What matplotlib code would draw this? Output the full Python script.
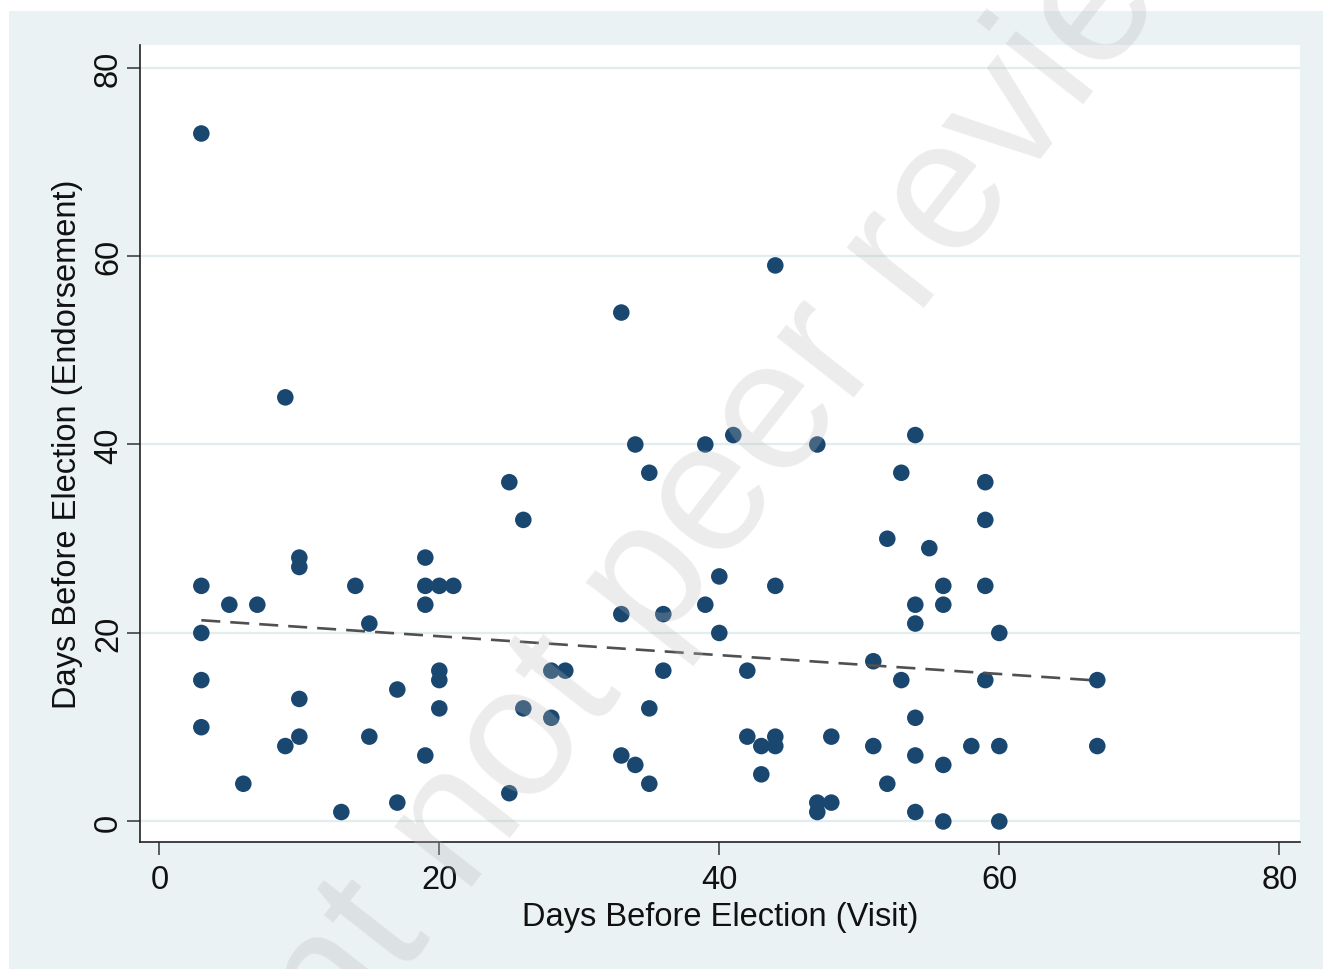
import numpy as np
import matplotlib
matplotlib.use("Agg")
import matplotlib.pyplot as plt
from matplotlib.patches import Rectangle

plt.rcParams["font.family"] = ["Liberation Sans", "DejaVu Sans"]

# Days before election of the candidate visit (x) and of the endorsement (y)
visit_days = [
    3, 3, 3, 3, 3,
    5, 6, 7,
    9, 9,
    10, 10, 10, 10,
    13, 14, 15, 15, 17, 17,
    19, 19, 19, 19,
    20, 20, 20, 20,
    21, 25, 25, 26, 26, 28, 28, 29,
    33, 33, 33, 34, 34, 35, 35, 35, 36, 36,
    39, 39, 40, 40, 41, 42, 42, 43, 43,
    44, 44, 44, 44,
    47, 47, 47, 48, 48, 51, 51, 52, 52, 53, 53,
    54, 54, 54, 54, 54, 54,
    55, 56, 56, 56, 56, 58,
    59, 59, 59, 59,
    60, 60, 60, 67, 67,
]
endorse_days = [
    73, 25, 20, 15, 10,
    23, 4, 23,
    45, 8,
    28, 27, 13, 9,
    1, 25, 21, 9, 14, 2,
    28, 25, 23, 7,
    25, 16, 15, 12,
    25, 36, 3, 32, 12, 16, 11, 16,
    54, 22, 7, 40, 6, 37, 12, 4, 22, 16,
    40, 23, 26, 20, 41, 16, 9, 8, 5,
    59, 25, 9, 8,
    40, 2, 1, 9, 2, 17, 8, 30, 4, 37, 15,
    41, 23, 21, 11, 7, 1,
    29, 25, 23, 6, 0, 8,
    36, 32, 25, 15,
    20, 8, 0, 15, 8,
]

# Fitted trend line: endpoints at the first and last visit day
fit_x = [3, 67]
fit_y = [21.35, 14.95]

x_ticks = [0, 20, 40, 60, 80]
y_ticks = [0, 20, 40, 60, 80]
x_title = "Days Before Election (Visit)"
y_title = "Days Before Election (Endorsement)"
watermark = "Preprint not peer reviewed"

NAVY = "#1a476f"
PANEL = "#eaf2f3"
GRID = "#e1edef"
FS = 23.5

W, H = 1323, 970
fig = plt.figure(figsize=(W / 100, H / 100), dpi=100)
fig.patch.set_facecolor("white")

# Outer graph region
fig.patches.append(Rectangle((9 / W, 0), 1 - 9 / W, 1 - 12 / H,
                             transform=fig.transFigure, facecolor=PANEL,
                             edgecolor="none", zorder=-5))

ax = fig.add_axes([140 / W, 1 - 843 / H, (1300 - 140) / W, (843 - 46) / H])
ax.set_zorder(1)
ax.set_facecolor("white")

ax.scatter(visit_days, endorse_days, s=142, color=NAVY,
           edgecolors="none", zorder=3)

ax.plot(fit_x, fit_y, color="#505050", lw=1.9,
        dashes=(7.2, 3.8), zorder=4)

ax.set_xlim(-1.38, 81.48)
ax.set_ylim(-2.18, 82.39)
ax.set_xticks(x_ticks)
ax.set_yticks(y_ticks)
ax.yaxis.grid(True, color=GRID, lw=1.6, zorder=1)
ax.set_axisbelow(True)

for side in ("top", "right"):
    ax.spines[side].set_visible(False)
for side in ("left", "bottom"):
    ax.spines[side].set_color("#222222")
    ax.spines[side].set_linewidth(1.2)

ax.tick_params(axis="both", direction="out", length=9.5, width=1.1,
               color="#333333", labelsize=FS, labelcolor="#111111")
ax.tick_params(axis="x", pad=6)
ax.tick_params(axis="y", pad=2, labelrotation=90)
for lab in ax.get_yticklabels():
    lab.set_va("center")

ax.set_xlabel(x_title, fontsize=FS, color="#111111", labelpad=5)
ax.set_ylabel(y_title, fontsize=FS, color="#111111", labelpad=7)

# Diagonal watermark across the whole figure
fig.text(703 / W, 1 - 591 / H, watermark, fontsize=134, rotation=52,
         rotation_mode="anchor", ha="center", va="baseline",
         color="#bababa", alpha=0.28, zorder=10)

fig.savefig("out.png", dpi=100, facecolor=fig.get_facecolor())
